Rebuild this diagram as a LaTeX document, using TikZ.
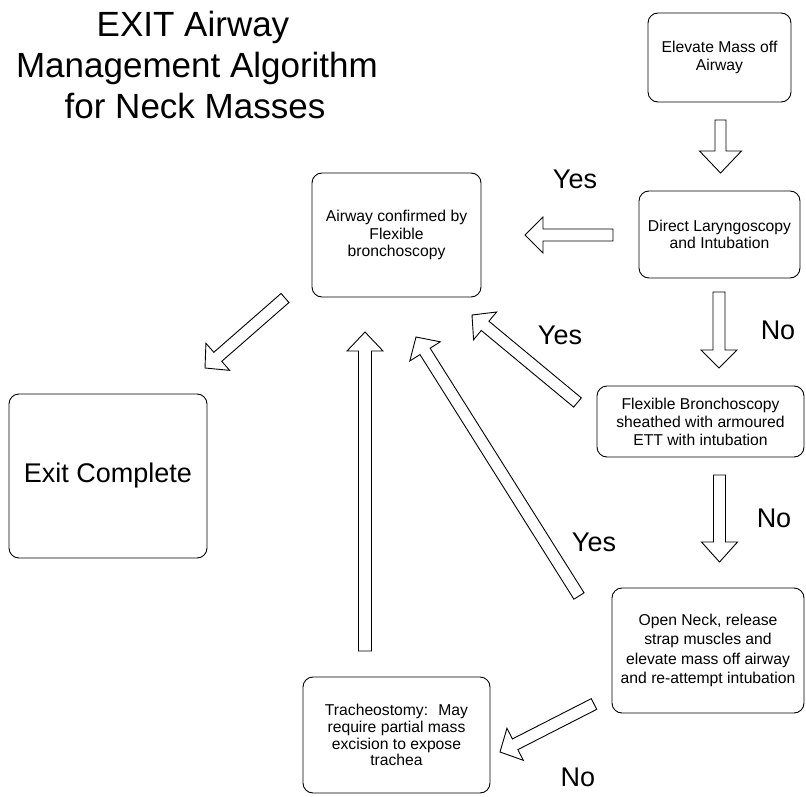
\documentclass[tikz,border=0pt]{standalone}
\usepackage{fontspec}
\setmainfont{Liberation Sans}
\usetikzlibrary{calc}
% block arrow: tail, tip, shaft half width, head half width, head length
\newcommand\blockarrow[5]{%
  \coordinate (hb) at ($(#2)!#5!(#1)$);
  \draw[blk] ($(#1)!#3!90:(#2)$) -- ($(hb)!#3!90:(#2)$) -- ($(hb)!#4!90:(#2)$) -- (#2)
     -- ($(hb)!#4!-90:(#2)$) -- ($(hb)!#3!-90:(#2)$) -- ($(#1)!#3!-90:(#2)$) -- cycle;}
\begin{document}
\begin{tikzpicture}[x=1pt,y=-1pt,
  box/.style={draw, line width=0.9pt, rounded corners=10pt, inner sep=0pt, align=center,
              font=\fontsize{15.7}{17.5}\selectfont},
  blk/.style={draw, fill=white, line width=0.9pt, line join=miter},
  lbl/.style={font=\fontsize{27}{30}\selectfont, anchor=base, inner sep=0pt},
  ttl/.style={font=\fontsize{35}{40}\selectfont, anchor=base, inner sep=0pt}]
\useasboundingbox (0,0) rectangle (806,797);
\fill[white] (0,0) rectangle (806,797);

% title
\node[ttl] (t1) at (193,37) {EXIT Airway};
\node[ttl] (t2) at (197,78) {Management Algorithm};
\node[ttl] (t3) at (195,119) {for Neck Masses};

% boxes
\node[box, minimum width=143pt, minimum height=89pt, font=\fontsize{15.7}{18.3}\selectfont] (elev) at (719.5,57.5) {Elevate Mass off\\Airway};
\node[box, minimum width=161pt, minimum height=87pt, font=\fontsize{15.7}{17}\selectfont] (dl) at (719.5,234.5) {Direct Laryngoscopy\\and Intubation};
\node[box, minimum width=169pt, minimum height=124pt] (awc) at (396.5,235) {Airway confirmed by\\Flexible\\bronchoscopy};
\node[box, minimum width=207pt, minimum height=71pt, font=\fontsize{15.7}{18}\selectfont] (fb) at (700.5,421.5) {Flexible Bronchoscopy\\sheathed with armoured\\ETT with intubation};
\node[box, minimum width=198pt, minimum height=164pt, font=\fontsize{27}{30}\selectfont] (exit) at (108,476) {Exit Complete};
\node[box, minimum width=187pt, minimum height=116pt, font=\fontsize{15.7}{16.8}\selectfont] (tr) at (396.5,735) {Tracheostomy:~ May\\require partial mass\\excision to expose\\trachea};
\node[box, minimum width=192pt, minimum height=125pt, font=\fontsize{15.7}{19.2}\selectfont] (on) at (708,650.5) {Open Neck, release\\strap muscles and\\elevate mass off airway\\and re-attempt intubation};

% arrow end points
\coordinate (a1s) at (720.5,120);  \coordinate (a1e) at (720.5,173);
\coordinate (a2s) at (613,235);    \coordinate (a2e) at (525,235);
\coordinate (a3s) at (719,292);    \coordinate (a3e) at (719,368);
\coordinate (a4s) at (577.5,402.5);\coordinate (a4e) at (472,315);
\coordinate (a5s) at (579,596);    \coordinate (a5e) at (416,337);
\coordinate (a6s) at (365,651);    \coordinate (a6e) at (365,332);
\coordinate (a7s) at (285,298);    \coordinate (a7e) at (205,368);
\coordinate (a8s) at (594,704);    \coordinate (a8e) at (500,752);
\coordinate (a9s) at (719.5,475);  \coordinate (a9e) at (719.5,562);

\blockarrow{a1s}{a1e}{5.5pt}{21pt}{22pt}
\blockarrow{a2s}{a2e}{6pt}{18pt}{18pt}
\blockarrow{a3s}{a3e}{6pt}{18pt}{18pt}
\blockarrow{a4s}{a4e}{6pt}{18pt}{17pt}
\blockarrow{a5s}{a5e}{6pt}{18pt}{17pt}
\blockarrow{a6s}{a6e}{6.5pt}{18pt}{19pt}
\blockarrow{a7s}{a7e}{6pt}{18pt}{17pt}
\blockarrow{a8s}{a8e}{6pt}{18pt}{17pt}
\blockarrow{a9s}{a9e}{6pt}{18pt}{20pt}

% labels
\node[lbl] (y1) at (575,189) {Yes};
\node[lbl] (y2) at (560,344) {Yes};
\node[lbl] (n1) at (778,339) {No};
\node[lbl] (y3) at (594,551) {Yes};
\node[lbl] (n2) at (774,527) {No};
\node[lbl] (n3) at (578,786) {No};
\end{tikzpicture}
\end{document}
